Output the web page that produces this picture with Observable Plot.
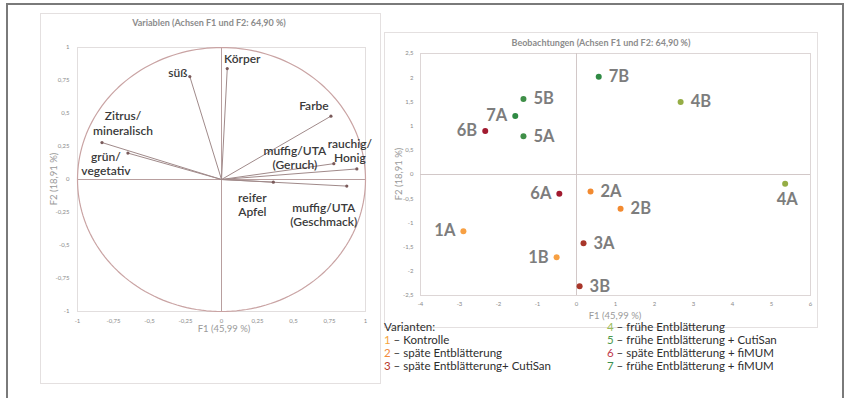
<!DOCTYPE html>
<html>
<head>
<meta charset="utf-8">
<script src="https://cdn.jsdelivr.net/npm/d3@7"></script>
<script src="https://cdn.jsdelivr.net/npm/@observablehq/plot@0.6"></script>
<style>
  body { margin: 0; background: #fff; font-family: Lato, "Open Sans", sans-serif; }
  #wrap { position: relative; width: 849px; height: 398px; overflow: hidden; background: #fff; }
  .abs { position: absolute; }
  .outer { left: 6px; top: 3px; width: 838px; height: 400px; border: 2px solid #7a7a7a; box-sizing: border-box; }
  .panel { border: 1px solid #e4e0e0; box-sizing: border-box; }
  .title { font-size: 9px; font-weight: bold; color: #8c8c8c; white-space: nowrap; transform: translate(-50%, -50%); }
  .axl { font-size: 9.5px; color: #9a9a9a; white-space: nowrap; transform: translate(-50%, -50%); }
  .axly { font-size: 9.5px; color: #9a9a9a; white-space: nowrap; transform: translate(-50%, -50%) rotate(-90deg); }
  .leg { font-size: 11.5px; color: #2e2e2e; white-space: nowrap; line-height: 13px; }
</style>
</head>
<body>
<div id="wrap">
  <div class="abs outer"></div>
  <div class="abs panel" style="left:40px;top:13px;width:341px;height:371px;"></div>
  <div class="abs panel" style="left:384px;top:32px;width:434px;height:296px;"></div>
  <div class="abs title" style="left:209px;top:22px;">Variablen (Achsen F1 und F2: 64,90 %)</div>
  <div class="abs title" style="left:601px;top:42px;">Beobachtungen (Achsen F1 und F2: 64,90 %)</div>
  <div id="left" class="abs" style="left:40px;top:13px;"></div>
  <div id="right" class="abs" style="left:384px;top:32px;"></div>
  <div class="abs axl" style="left:224px;top:328px;">F1 (45,99 %)</div>
  <div class="abs axly" style="left:53px;top:179px;">F2 (18,91 %)</div>
  <div class="abs axl" style="left:615px;top:315px;">F1 (45,99 %)</div>
  <div class="abs axly" style="left:398px;top:174px;">F2 (18,91 %)</div>
  <div id="legL" class="abs leg" style="left:384px;top:320px;"></div>
  <div id="legR" class="abs leg" style="left:607px;top:320px;"></div>
</div>
<script>
// ---------- Data: variables (correlation circle) ----------
const varNames = ["Körper", "süß", "Farbe", "Zitrus/\nmineralisch", "grün/\nvegetativ",
                  "rauchig/\nHonig", "muffig/UTA\n(Geruch)", "reifer\nApfel", "muffig/UTA\n(Geschmack)"];
const varF1 = [0.04, -0.22, 0.76, -0.83, -0.65, 0.94, 0.78, 0.36, 0.87];
const varF2 = [0.84, 0.78, 0.48, 0.28, 0.20, 0.08, 0.12, -0.02, -0.05];
const circleTicks = [-1, -0.75, -0.5, -0.25, 0, 0.25, 0.5, 0.75, 1];

// ---------- Data: observations ----------
const obsNames = ["7B", "4B", "5B", "7A", "6B", "5A", "4A", "6A", "2A", "2B", "1A", "3A", "1B", "3B"];
const obsF1 = [0.57, 2.67, -1.36, -1.57, -2.34, -1.36, 5.35, -0.44, 0.36, 1.13, -2.90, 0.18, -0.51, 0.08];
const obsF2 = [2.02, 1.50, 1.56, 1.21, 0.90, 0.79, -0.19, -0.40, -0.35, -0.71, -1.17, -1.42, -1.71, -2.31];
const obsXTicks = [-4, -3, -2, -1, 0, 1, 2, 3, 4, 5, 6];
const obsYTicks = [-2.5, -2, -1.5, -1, -0.5, 0, 0.5, 1, 1.5, 2, 2.5];

// ---------- Data: variants (legend) ----------
const variantIds = ["1", "2", "3", "4", "5", "6", "7"];
const variantNames = ["Kontrolle", "späte Entblätterung", "späte Entblätterung+ CutiSan",
                      "frühe Entblätterung", "frühe Entblätterung + CutiSan",
                      "späte Entblätterung + fiMUM", "frühe Entblätterung + fiMUM"];

// ---------- Styles ----------
const variantColors = {"1": "#f7a043", "2": "#f28a30", "3": "#a8362a", "4": "#95ad45",
                       "5": "#3f8f48", "6": "#a11a2f", "7": "#2f8a44"};
const legendColors = {"1": "#f6a53c", "2": "#f28a3a", "3": "#b8382a", "4": "#9bbb59",
                      "5": "#4e9a4e", "6": "#c0394d", "7": "#3a8f50"};
const varLabelOffset = {
  "Körper": [15, -10], "süß": [-12, -4], "Farbe": [-17, -11],
  "Zitrus/\nmineralisch": [21, -19.5], "grün/\nvegetativ": [-22, 10.5],
  "rauchig/\nHonig": [-7, -18.5], "muffig/UTA\n(Geruch)": [-39, -6.5],
  "reifer\nApfel": [-21, 22], "muffig/UTA\n(Geschmack)": [-23, 28.5]
};
const obsLabelSide = {"7B": "r", "4B": "r", "5B": "r", "7A": "l", "6B": "l", "5A": "r", "4A": "b",
                      "6A": "l", "2A": "r", "2B": "r", "1A": "l", "3A": "r", "1B": "l", "3B": "r"};

const comma = d => String(d).replace(".", ",");

// ---------- Left chart ----------
const vars = varNames.map((n, i) => ({name: n, x: varF1[i], y: varF2[i]}));
const circle = d3.range(0, 361, 2).map(a => ({x: Math.cos(a * Math.PI / 180), y: Math.sin(a * Math.PI / 180)}));

const leftLabels = vars.map(v => Plot.text([v], {
  x: "x", y: "y", text: "name", dx: varLabelOffset[v.name][0], dy: varLabelOffset[v.name][1],
  fontSize: 12, fontWeight: 600, fill: "#3a3a3a", textAnchor: "middle", lineAnchor: "middle", lineHeight: 1.2
}));

const left = Plot.plot({
  width: 340, height: 370,
  marginLeft: 37, marginRight: 15, marginTop: 34, marginBottom: 72,
  style: {fontFamily: "Lato, sans-serif", fontSize: "6px", color: "#8a8a8a", background: "transparent", overflow: "visible"},
  x: {domain: [-1, 1], ticks: circleTicks, tickFormat: comma, tickSize: 0, tickPadding: 7, label: null},
  y: {domain: [-1, 1], ticks: circleTicks, tickFormat: comma, tickSize: 0, tickPadding: 8, label: null},
  marks: [
    Plot.frame({stroke: "#e2dede"}),
    Plot.ruleX([0], {stroke: "#b89f9f"}),
    Plot.ruleY([0], {stroke: "#b89f9f"}),
    Plot.line(circle, {x: "x", y: "y", stroke: "#c9a3a3", strokeWidth: 1.2}),
    Plot.link(vars, {x1: 0, y1: 0, x2: "x", y2: "y", stroke: "#a08a8a", strokeWidth: 1}),
    Plot.dot(vars, {x: "x", y: "y", r: 1.6, fill: "#7a5a5a", stroke: null}),
    ...leftLabels
  ]
});
document.getElementById("left").appendChild(left);

// ---------- Right chart ----------
const obs = obsNames.map((n, i) => ({name: n, x: obsF1[i], y: obsF2[i], v: n[0]}));
const labelStyle = {x: "x", y: "y", text: "name", fontSize: 16.5, fontWeight: "bold", fill: "#7d7d7d"};

const right = Plot.plot({
  width: 433, height: 295,
  marginLeft: 36, marginRight: 7, marginTop: 21, marginBottom: 32,
  style: {fontFamily: "Lato, sans-serif", fontSize: "6px", color: "#8a8a8a", background: "transparent", overflow: "visible"},
  x: {domain: [-4, 6], ticks: obsXTicks, tickFormat: comma, tickSize: 0, tickPadding: 6, label: null},
  y: {domain: [-2.5, 2.5], ticks: obsYTicks, tickFormat: comma, tickSize: 0, tickPadding: 7, label: null},
  marks: [
    Plot.frame({stroke: "#ddd6d6"}),
    Plot.ruleX([0], {stroke: "#d2c8c8"}),
    Plot.ruleY([0], {stroke: "#d2c8c8"}),
    Plot.dot(obs, {x: "x", y: "y", r: 3, fill: d => variantColors[d.v], stroke: null}),
    Plot.text(obs.filter(d => obsLabelSide[d.name] === "r"), {...labelStyle, dx: 10, textAnchor: "start"}),
    Plot.text(obs.filter(d => obsLabelSide[d.name] === "l"), {...labelStyle, dx: -8, textAnchor: "end"}),
    Plot.text(obs.filter(d => obsLabelSide[d.name] === "b"), {...labelStyle, dx: 2, dy: 16, textAnchor: "middle"})
  ]
});
document.getElementById("right").appendChild(right);

// ---------- Legend ----------
const legRow = i => `<div><span style="color:${legendColors[variantIds[i]]}">${variantIds[i]}</span> – ${variantNames[i]}</div>`;
document.getElementById("legL").innerHTML = `<div>Varianten:</div>` + [0, 1, 2].map(legRow).join("");
document.getElementById("legR").innerHTML = [3, 4, 5, 6].map(legRow).join("");
</script>
</body>
</html>
